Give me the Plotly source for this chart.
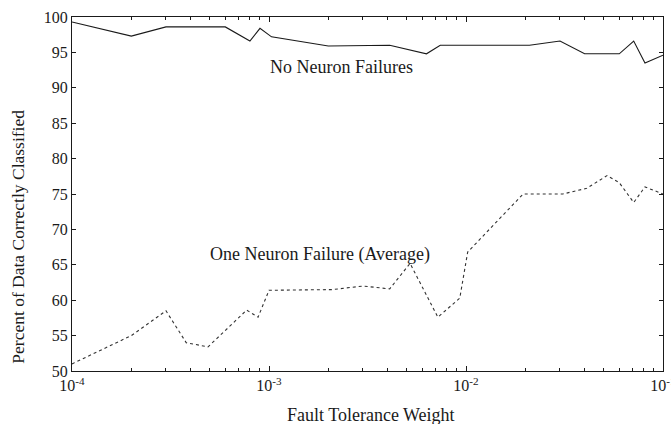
import plotly.graph_objects as go

# No Neuron Failures (solid)
x_none = [1e-4, 2e-4, 3e-4, 6e-4, 8e-4, 9e-4, 1.03e-3, 2e-3, 4.1e-3, 6.3e-3, 7.4e-3,
          2.1e-2, 3e-2, 4e-2, 6e-2, 7.1e-2, 8.1e-2, 1e-1]
y_none = [99.3, 97.3, 98.6, 98.6, 96.6, 98.4, 97.2, 95.9, 96.0, 94.8, 96.0,
          96.0, 96.6, 94.8, 94.8, 96.6, 93.5, 94.6]

# One Neuron Failure (Average) (dotted)
x_one = [1e-4, 2e-4, 3e-4, 3.8e-4, 4.9e-4, 7.7e-4, 8.8e-4, 1e-3, 2.1e-3, 3e-3, 4.1e-3,
         5.2e-3, 7.2e-3, 9.3e-3, 1.02e-2, 1.95e-2, 3.1e-2, 4.1e-2, 5.2e-2, 6e-2, 7.1e-2, 8.1e-2, 1e-1]
y_one = [51.0, 55.0, 58.5, 54.0, 53.4, 58.6, 57.6, 61.4, 61.5, 62.0, 61.6,
         65.2, 57.6, 60.3, 66.8, 75.0, 75.0, 75.8, 77.6, 76.6, 73.8, 76.0, 75.0]

decades = [1e-4, 1e-3, 1e-2, 1e-1]
decade_labels = ["10<sup>-4</sup>", "10<sup>-3</sup>", "10<sup>-2</sup>", "10<sup>-1</sup>"]
y_ticks = [50, 55, 60, 65, 70, 75, 80, 85, 90, 95, 100]

minor_x = [d * m for d in decades[:-1] for m in range(2, 10)]

font_family = "Liberation Serif, Times New Roman, serif"
ink = "#1a1a1a"

fig = go.Figure()
fig.add_trace(go.Scatter(x=x_none, y=y_none, mode="lines",
                         line=dict(color=ink, width=1.1), showlegend=False))
fig.add_trace(go.Scatter(x=x_one, y=y_one, mode="lines",
                         line=dict(color="#333", width=1.1, dash="dot"), showlegend=False))

fig.add_annotation(x=-2.63, y=92.9, xref="x", yref="y", text="No Neuron Failures",
                   showarrow=False, font=dict(family=font_family, size=18, color=ink))
fig.add_annotation(x=-2.74, y=66.4, xref="x", yref="y", text="One Neuron Failure (Average)",
                   showarrow=False, font=dict(family=font_family, size=18, color=ink))

# axis titles as annotations for exact placement
fig.add_annotation(x=-0.091, y=0.38, xref="paper", yref="paper",
                   xanchor="center", yanchor="middle",
                   text="Percent of Data Correctly Classified", textangle=-90,
                   showarrow=False, font=dict(family=font_family, size=17.5, color=ink))
fig.add_annotation(x=0.506, y=-0.124, xref="paper", yref="paper",
                   xanchor="center", yanchor="middle",
                   text="Fault Tolerance Weight",
                   showarrow=False, font=dict(family=font_family, size=18, color=ink))

fig.update_layout(
    width=671, height=424,
    margin=dict(l=72, r=8, t=17, b=53),
    paper_bgcolor="white", plot_bgcolor="white",
    font=dict(family=font_family, size=16, color=ink),
    xaxis=dict(type="log", range=[-4, -1], tickvals=decades, ticktext=decade_labels,
               ticks="inside", ticklen=5, tickcolor=ink, showline=True, linecolor=ink,
               linewidth=1.2, mirror="ticks", showgrid=False, zeroline=False,
               automargin=False, tickfont=dict(size=16), ticklabeloverflow="allow",
               minor=dict(tickvals=minor_x, ticks="inside", ticklen=3, tickcolor=ink,
                          showgrid=False)),
    yaxis=dict(range=[50, 100], tickvals=y_ticks, ticks="inside", ticklen=4, tickcolor=ink,
               showline=True, linecolor=ink, linewidth=1.2, mirror="ticks",
               showgrid=False, zeroline=False, automargin=False, tickfont=dict(size=16),
               ticklabeloverflow="allow"),
)

fig.write_html("out.html", config={"displayModeBar": False},
               post_script="document.body.style.margin='0';document.body.style.padding='0';")
